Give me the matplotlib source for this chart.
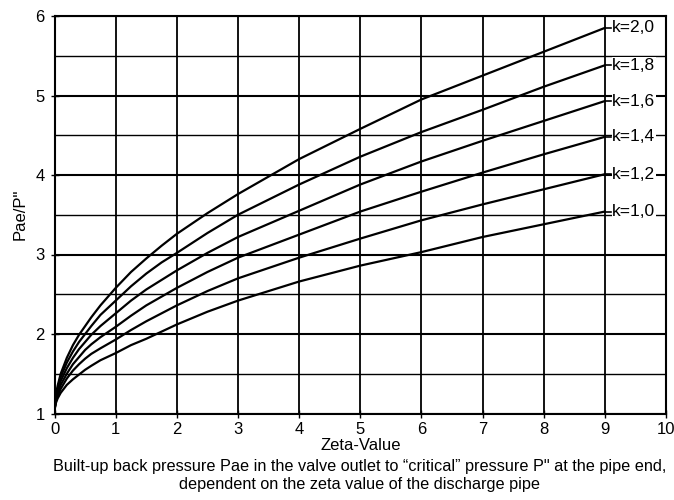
import matplotlib
matplotlib.use("Agg")
import matplotlib.pyplot as plt
import numpy as np

plt.rcParams['font.family'] = ['Liberation Sans', 'DejaVu Sans']

zeta = [0, 0.02, 0.05, 0.1, 0.2, 0.3, 0.4, 0.5, 0.6, 0.75, 1, 1.25, 1.5, 1.75, 2, 2.5, 3, 4, 5, 6, 7, 8, 9]

# Pae/P" for each isentropic exponent k
curves = {
    "k=2,0": [1.05, 1.22, 1.35, 1.50, 1.70, 1.86, 1.99, 2.10, 2.21, 2.36, 2.58, 2.78, 2.95, 3.11, 3.26, 3.52, 3.76, 4.20, 4.58, 4.95, 5.25, 5.55, 5.85],
    "k=1,8": [1.05, 1.21, 1.32, 1.46, 1.64, 1.78, 1.90, 2.00, 2.10, 2.24, 2.42, 2.60, 2.76, 2.90, 3.02, 3.27, 3.50, 3.88, 4.23, 4.54, 4.82, 5.11, 5.38],
    "k=1,6": [1.05, 1.19, 1.29, 1.41, 1.57, 1.70, 1.81, 1.90, 1.99, 2.10, 2.26, 2.42, 2.56, 2.68, 2.80, 3.02, 3.22, 3.55, 3.88, 4.17, 4.43, 4.68, 4.93],
    "k=1,4": [1.05, 1.17, 1.26, 1.36, 1.50, 1.62, 1.71, 1.80, 1.87, 1.96, 2.09, 2.23, 2.36, 2.47, 2.58, 2.78, 2.96, 3.25, 3.54, 3.79, 4.03, 4.26, 4.48],
    "k=1,2": [1.05, 1.15, 1.22, 1.31, 1.44, 1.54, 1.62, 1.69, 1.75, 1.82, 1.93, 2.05, 2.16, 2.26, 2.36, 2.54, 2.70, 2.96, 3.20, 3.43, 3.63, 3.82, 4.01],
    "k=1,0": [1.05, 1.13, 1.19, 1.26, 1.36, 1.43, 1.49, 1.55, 1.60, 1.67, 1.76, 1.86, 1.94, 2.03, 2.12, 2.28, 2.42, 2.66, 2.86, 3.03, 3.22, 3.38, 3.54],
}

x_ticks = list(range(0, 11))
y_ticks = [1, 2, 3, 4, 5, 6]
y_half = [1.5, 2.5, 3.5, 4.5, 5.5]

fig = plt.figure(figsize=(6.74, 5), dpi=100)
ax = fig.add_axes([0.081, 0.173, 0.907, 0.795])

# grid: vertical at every integer, horizontal every 0.5 (integers heavier)
for xv in x_ticks:
    ax.axvline(xv, color='black', linewidth=1.3, zorder=1)
for yv in y_ticks:
    ax.axhline(yv, color='black', linewidth=1.5, zorder=1)
for yv in y_half:
    ax.axhline(yv, color='black', linewidth=1.0, zorder=1)

for label, vals in curves.items():
    ax.plot(zeta, vals, color='black', linewidth=1.6, zorder=2)
    ax.plot([zeta[-1], 9.1], [vals[-1], vals[-1]], color='black', linewidth=1.2, zorder=2)
    ax.text(9.12, vals[-1], label, ha='left', va='center', fontsize=12.5,
            bbox=dict(facecolor='white', edgecolor='none', pad=0.3), zorder=3)

ax.set_xlim(0, 10)
ax.set_ylim(1, 6)
ax.set_xticks(x_ticks)
ax.set_yticks(y_ticks)
ax.tick_params(direction='inout', length=6, width=1, labelsize=12)
ax.tick_params(axis='x', pad=3)
ax.tick_params(axis='y', pad=4)
for sp in ax.spines.values():
    sp.set_linewidth(1.5)

ax.set_xlabel("Zeta-Value", fontsize=12, labelpad=1)
ax.set_ylabel('Pae/P"', fontsize=12, labelpad=6)

fig.text(0.534, 0.068, "Built-up back pressure Pae in the valve outlet to \u201ccritical\u201d pressure P\" at the pipe end,",
         ha='center', va='center', fontsize=11.7)
fig.text(0.534, 0.032, "dependent on the zeta value of the discharge pipe",
         ha='center', va='center', fontsize=11.7)

fig.savefig("out.png", dpi=100)
